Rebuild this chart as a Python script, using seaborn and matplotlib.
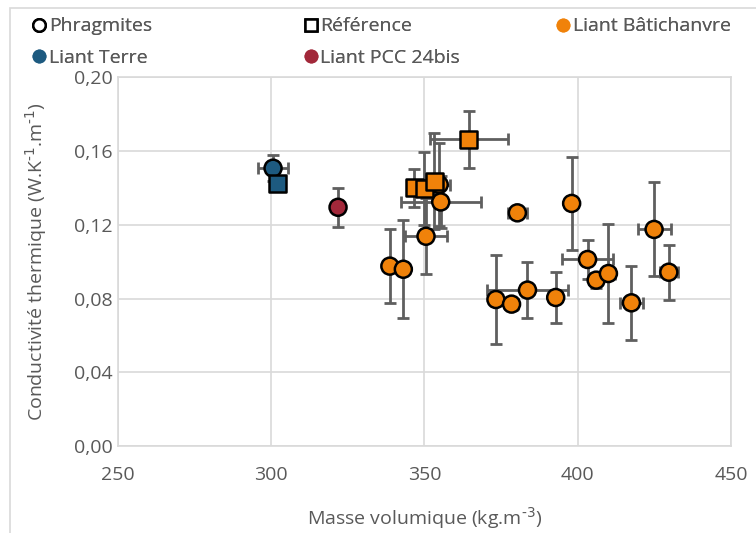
import numpy as np
import pandas as pd
import matplotlib
matplotlib.use("Agg")
import matplotlib.pyplot as plt
from matplotlib.lines import Line2D
from matplotlib.patches import Rectangle
from matplotlib.ticker import FuncFormatter
import seaborn as sns

# Phragmites + liant Bâtichanvre (circles)
phrag_bat_x = [354.8, 355.3, 380.3, 350.5, 338.7, 343.1, 373.3, 378.4, 383.6,
               392.8, 398.0, 403.2, 406.0, 410.0, 424.9, 429.7, 417.5]
phrag_bat_y = [0.1418, 0.1324, 0.1265, 0.1138, 0.0976, 0.0959, 0.0795, 0.0770, 0.0846,
               0.0806, 0.1316, 0.1012, 0.0900, 0.0936, 0.1175, 0.0943, 0.0777]
phrag_bat_xerr = [3.5, 13.0, 3.0, 6.7, 0, 0, 0, 2.0, 13.3,
                  0, 0, 8.4, 2.0, 2.3, 5.4, 3.0, 3.8]
phrag_bat_yerr = [0.0226, 0.014, 0.003, 0.0206, 0.020, 0.0265, 0.024, 0.003, 0.0153,
                  0.014, 0.025, 0.0107, 0.004, 0.0266, 0.0255, 0.0148, 0.020]

# Référence + liant Bâtichanvre (squares)
ref_bat_x = [346.6, 349.9, 353.2, 364.5]
ref_bat_y = [0.1402, 0.1397, 0.1436, 0.1664]
ref_bat_xerr = [2.0, 2.0, 1.0, 12.7]
ref_bat_yerr = [0.0103, 0.020, 0.026, 0.0155]

# Liant Terre
phrag_terre_x = [300.6]
phrag_terre_y = [0.1507]
phrag_terre_xerr = [4.8]
phrag_terre_yerr = [0.007]
ref_terre_x = [302.2]
ref_terre_y = [0.1426]

# Liant PCC 24bis
phrag_pcc_x = [321.8]
phrag_pcc_y = [0.1295]
phrag_pcc_yerr = [0.0105]

colors = {"Liant Bâtichanvre": "#F0820A", "Liant Terre": "#1D5A80", "Liant PCC 24bis": "#A2283A"}
text_color = "#595959"
grid_color = "#D9D9D9"

sns.set_theme(style="white")
plt.rcParams["font.family"] = ["Open Sans", "DejaVu Sans"]
plt.rcParams["mathtext.default"] = "regular"

rows = []
for x, y in zip(phrag_bat_x, phrag_bat_y):
    rows.append({"x": x, "y": y, "Liant": "Liant Bâtichanvre", "Type": "Phragmites"})
for x, y in zip(ref_bat_x, ref_bat_y):
    rows.append({"x": x, "y": y, "Liant": "Liant Bâtichanvre", "Type": "Référence"})
for x, y in zip(phrag_terre_x, phrag_terre_y):
    rows.append({"x": x, "y": y, "Liant": "Liant Terre", "Type": "Phragmites"})
for x, y in zip(ref_terre_x, ref_terre_y):
    rows.append({"x": x, "y": y, "Liant": "Liant Terre", "Type": "Référence"})
for x, y in zip(phrag_pcc_x, phrag_pcc_y):
    rows.append({"x": x, "y": y, "Liant": "Liant PCC 24bis", "Type": "Phragmites"})
df = pd.DataFrame(rows)

fig = plt.figure(figsize=(7.56, 5.33), dpi=100)
ax = fig.add_axes([0.156, 0.163, 0.811, 0.692])

# outer chart border
fig.patches.append(Rectangle((10 / 756, -0.01), 1.0, 1 - 8 / 533 + 0.01, transform=fig.transFigure,
                             fill=False, edgecolor=grid_color, linewidth=1.2))

eb = dict(fmt="none", ecolor="#5F5F5F", elinewidth=2, capsize=4.5, capthick=2, zorder=2)
ax.errorbar(phrag_terre_x, phrag_terre_y, xerr=phrag_terre_xerr, yerr=phrag_terre_yerr, **eb)
ax.errorbar(phrag_pcc_x, phrag_pcc_y, yerr=phrag_pcc_yerr, **eb)
ax.errorbar(phrag_bat_x, phrag_bat_y, xerr=phrag_bat_xerr, yerr=phrag_bat_yerr, **eb)
ax.errorbar(ref_bat_x, ref_bat_y, xerr=ref_bat_xerr, yerr=ref_bat_yerr, **eb)

sns.scatterplot(data=df, x="x", y="y", hue="Liant", style="Type",
                markers={"Phragmites": "o", "Référence": "s"}, palette=colors,
                s=150, edgecolor="black", linewidth=1.8, zorder=3, legend=False, ax=ax)

ax.set_xlim(250, 450)
ax.set_ylim(0, 0.20)
ax.set_xticks([250, 300, 350, 400, 450])
ax.set_yticks([0, 0.04, 0.08, 0.12, 0.16, 0.20])
ax.yaxis.set_major_formatter(FuncFormatter(lambda v, p: f"{v:.2f}".replace(".", ",")))
ax.grid(True, color=grid_color, linewidth=1.2)
ax.set_axisbelow(True)
for sp in ax.spines.values():
    sp.set_color(grid_color)
    sp.set_linewidth(1.2)
ax.tick_params(axis="both", colors=text_color, labelsize=14, length=0)
ax.tick_params(axis="x", pad=14)
ax.tick_params(axis="y", pad=4)
ax.set_xlabel(r"Masse volumique (kg.m$^{\text{-3}}$)", color=text_color, fontsize=14, labelpad=16)
ax.set_ylabel(r"Conductivité thermique (W.K$^{\text{-1}}$.m$^{\text{-1}}$)", color=text_color,
              fontsize=14, labelpad=18)

def mk(marker, fc, ec, label):
    if ec == "none":
        return Line2D([], [], ls="none", marker=marker, mfc=fc, mec="none", ms=10, label=label)
    return Line2D([], [], ls="none", marker=marker, mfc=fc, mec=ec, mew=1.8, ms=9, label=label)

legend_cols = [
    ([mk("o", "white", "black", "Phragmites"), mk("o", colors["Liant Terre"], "none", "Liant Terre")], 0.021),
    ([mk("s", "white", "black", "Référence"), mk("o", colors["Liant PCC 24bis"], "none", "Liant PCC 24bis")], 0.380),
    ([mk("o", colors["Liant Bâtichanvre"], "none", "Liant Bâtichanvre")], 0.714),
]
for hs, xpos in legend_cols:
    leg = fig.legend(handles=hs, loc="upper left", bbox_to_anchor=(xpos, 0.993), ncol=1,
                     frameon=False, fontsize=14, handletextpad=0.0, labelspacing=0.7,
                     handlelength=1.0, borderaxespad=0.3)
    for t in leg.get_texts():
        t.set_color(text_color)
    fig.add_artist(leg)

fig.savefig("out.png", dpi=100)
